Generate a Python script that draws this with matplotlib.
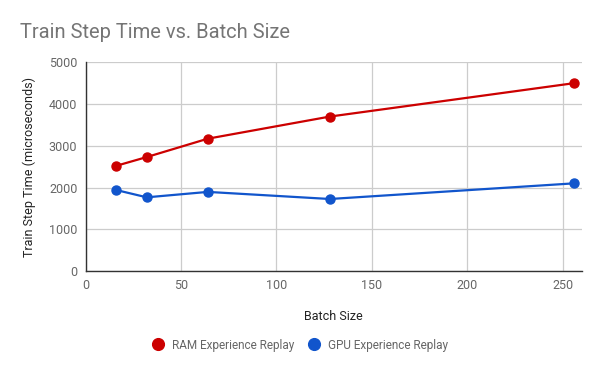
import matplotlib
matplotlib.use("Agg")
import matplotlib.pyplot as plt

# values
batch_size = [16, 32, 64, 128, 256]
ram_replay = [2520, 2730, 3170, 3700, 4500]
gpu_replay = [1940, 1765, 1895, 1725, 2100]

plt.rcParams['font.family'] = ['Roboto', 'DejaVu Sans']

fig = plt.figure(figsize=(6, 3.71), dpi=100)
ax = fig.add_axes([85.7/600, 1 - 271/371, (581.7 - 85.7)/600, (271 - 62.3)/371])

ax.plot(batch_size, ram_replay, '-o', color='#cc0000', lw=1.6, ms=6.5, label='RAM Experience Replay', zorder=3)
ax.plot(batch_size, gpu_replay, '-o', color='#1155cc', lw=1.6, ms=6.5, label='GPU Experience Replay', zorder=3)

ax.set_xlim(0, 260)
ax.set_ylim(0, 5000)
ax.set_xticks([0, 50, 100, 150, 200, 250])
ax.set_yticks([0, 1000, 2000, 3000, 4000, 5000])
ax.grid(True, color='#cccccc', lw=0.9)
ax.set_axisbelow(True)
for s in ['top', 'right']:
    ax.spines[s].set_visible(False)
for s in ['left', 'bottom']:
    ax.spines[s].set_color('#333333')
    ax.spines[s].set_linewidth(1.0)
ax.tick_params(length=0, labelsize=9, labelcolor='#666666', pad=6)

ax.set_xlabel('Batch Size', fontsize=9, color='#222222', labelpad=13)
ax.set_ylabel('Train Step Time (microseconds)', fontsize=9, color='#222222', labelpad=9)
fig.text(20/600, 1 - 32/371, 'Train Step Time vs. Batch Size', fontsize=14.5,
         color='#757575', va='center', ha='left')

fig.legend(loc='center', bbox_to_anchor=(0.5, 1 - 345/371), ncol=2, frameon=False,
           fontsize=8.5, labelcolor='#666666', handlelength=1.0, handletextpad=0.7,
           columnspacing=1.2, markerscale=1.3)
leg = fig.legends[0]
for h in leg.legend_handles:
    h.set_linestyle('none')

fig.savefig('out.png', dpi=100)
